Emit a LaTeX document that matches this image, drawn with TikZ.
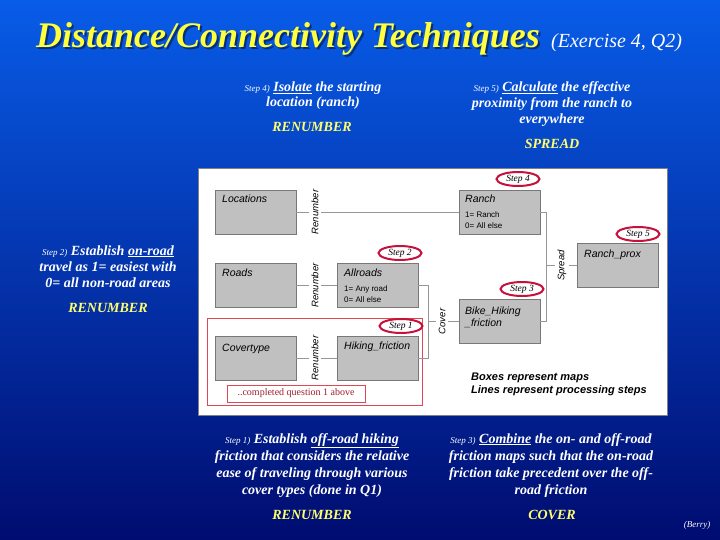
\documentclass[tikz,border=0pt]{standalone}
\usepackage{fontspec}
\setmainfont{Liberation Serif}
\setsansfont{Liberation Sans}
\usetikzlibrary{shapes.geometric}
\definecolor{bgtop}{RGB}{8,92,232}
\definecolor{bgmid}{RGB}{4,58,192}
\definecolor{bgbot}{RGB}{0,12,112}
\definecolor{titleyellow}{RGB}{255,255,60}
\definecolor{cmdyellow}{RGB}{255,255,110}
\definecolor{boxgray}{RGB}{192,192,192}
\definecolor{boxedge}{RGB}{120,120,120}
\definecolor{linkgray}{RGB}{150,150,150}
\definecolor{stepred}{RGB}{200,16,60}
\definecolor{noteRed}{RGB}{225,70,85}
\definecolor{noteText}{RGB}{160,30,45}
\tikzset{
  mapbox/.style={draw=boxedge, fill=boxgray, line width=0.7pt, minimum width=81pt, minimum height=44pt, inner sep=0pt},
  boxtitle/.style={font=\sffamily\itshape\fontsize{10.5}{12}\selectfont, anchor=base west, inner sep=0pt},
  boxnote/.style={font=\sffamily\fontsize{8}{9}\selectfont, anchor=base west, inner sep=0pt},
  oplabel/.style={font=\sffamily\itshape\fontsize{9.5}{10}\selectfont, rotate=90, inner sep=2.5pt},
  link/.style={draw=linkgray, line width=0.7pt},
  stepmark/.style={ellipse, draw=stepred, line width=2pt, fill=white, minimum width=43pt, minimum height=14pt, inner sep=0pt, font=\itshape\fontsize{9.5}{9.5}\selectfont},
  slidetext/.style={font=\bfseries\itshape\fontsize{14}{16}\selectfont, text=white, align=center, inner sep=0pt, anchor=base},
  cmdtext/.style={font=\bfseries\itshape\fontsize{14}{16}\selectfont, text=cmdyellow, inner sep=0pt, anchor=base},
}
\newcommand{\stepno}[1]{{\mdseries\fontsize{9}{9}\selectfont #1}}
\begin{document}
\begin{tikzpicture}[x=1pt,y=-1pt]
\useasboundingbox (0,0) rectangle (720,540);
\shade[top color=bgtop, middle color=bgmid, bottom color=bgbot] (0,0) rectangle (720,540);

% title with its drop shadow
\node[anchor=base west, inner sep=0pt, font=\bfseries\itshape\fontsize{36}{40}\selectfont, text=black, opacity=0.45] (titleshadow) at (38,50) {Distance/Connectivity Techniques};
\node[anchor=base west, inner sep=0pt, font=\bfseries\itshape\fontsize{36}{40}\selectfont, text=titleyellow] (title) at (36,48) {Distance/Connectivity Techniques};
\node[anchor=base west, inner sep=0pt, font=\itshape\fontsize{20}{22}\selectfont, text=white] (exercise) at (551,48) {(Exercise 4, Q2)};

% step descriptions (anchor base = baseline of the last line)
\node[slidetext, font=\bfseries\itshape\fontsize{14}{15.5}\selectfont] (s4text) at (313,107) {\stepno{Step 4)} \underline{Isolate} the starting\\location (ranch)};
\node[cmdtext] (s4cmd) at (312,132) {RENUMBER};
\node[slidetext] (s5text) at (552,124) {\stepno{Step 5)} \underline{Calculate} the effective\\proximity from the ranch to\\everywhere};
\node[cmdtext] (s5cmd) at (552,149) {SPREAD};
\node[slidetext] (s2text) at (108,287) {\stepno{Step 2)} Establish \underline{on-road}\\travel as 1= easiest with\\0= all non-road areas};
\node[cmdtext] (s2cmd) at (108,312) {RENUMBER};
\node[slidetext, font=\bfseries\itshape\fontsize{14}{17}\selectfont] (s1text) at (312,494) {\stepno{Step 1)} Establish \underline{off-road hiking}\\friction that considers the relative\\ease of traveling through various\\cover types (done in Q1)};
\node[cmdtext] (s1cmd) at (312,519) {RENUMBER};
\node[slidetext, font=\bfseries\itshape\fontsize{14}{17}\selectfont] (s3text) at (551,494) {\stepno{Step 3)} \underline{Combine} the on- and off-road\\friction maps such that the on-road\\friction take precedent over the off-\\road friction};
\node[cmdtext] (s3cmd) at (552,519) {COVER};
\node[anchor=base, inner sep=0pt, font=\itshape\fontsize{9}{10}\selectfont, text=white] (berry) at (697,527) {(Berry)};

% panel
\draw[fill=white, draw=gray] (198,168) rectangle (667,415);
\draw[draw=noteRed, line width=0.7pt] (207,318) rectangle (422,405);
\node[draw=noteRed, line width=0.7pt, minimum width=138pt, minimum height=17pt, inner sep=0pt, font=\fontsize{10}{11}\selectfont, text=noteText] (note) at (296,393.5) {..completed question 1 above};

% map boxes
\node[mapbox] (loc) at (255.5,212) {};
\node[mapbox] (ranch) at (499.5,212) {};
\node[mapbox] (roads) at (255.5,285.5) {};
\node[mapbox] (allroads) at (377.5,285.5) {};
\node[mapbox] (cover) at (255.5,358) {};
\node[mapbox] (hiking) at (377.5,358) {};
\node[mapbox] (bike) at (499.5,321.5) {};
\node[mapbox] (ranchprox) at (617.5,265.5) {};

\node[boxtitle] (loct) at (222,203) {Locations};
\node[boxtitle] (rancht) at (465,203) {Ranch};
\node[boxnote] (ranchn1) at (465,218) {1= Ranch};
\node[boxnote] (ranchn2) at (465,228.5) {0= All else};
\node[boxtitle] (roadst) at (222,276) {Roads};
\node[boxtitle] (allroadst) at (344,276) {Allroads};
\node[boxnote] (allroadsn1) at (344,291.5) {1= Any road};
\node[boxnote] (allroadsn2) at (344,302) {0= All else};
\node[boxtitle] (covert) at (222,351) {Covertype};
\node[boxtitle] (hikingt) at (344,349) {Hiking\_friction};
\node[boxtitle] (biket) at (465,314) {Bike\_Hiking};
\node[boxtitle] (biket2) at (465,326) {\_friction};
\node[boxtitle] (ranchproxt) at (584,257) {Ranch\_prox};

% operation labels
\node[oplabel] (renA) at (315,212) {Renumber};
\node[oplabel] (renB) at (315,285.5) {Renumber};
\node[oplabel] (renC) at (315,358) {Renumber};
\coordinate (j1) at (428,321.5);
\node[oplabel] (coverop) at (442,321.5) {Cover};
\coordinate (j2) at (546,265.5);
\node[oplabel] (spreadop) at (562,265.5) {Spread};

% connectors
\draw[link] (loc) -- (renA) -- (ranch);
\draw[link] (roads) -- (renB) -- (allroads);
\draw[link] (cover) -- (renC) -- (hiking);
\draw[link] (allroads.east) -| (j1);
\draw[link] (hiking.east) -| (j1);
\draw[link] (j1) -- (coverop) -- (bike);
\draw[link] (ranch.east) -| (j2);
\draw[link] (bike.east) -| (j2);
\draw[link] (j2) -- (spreadop) -- (ranchprox);

% step marks
\node[stepmark] (step4) at (518,179) {Step 4};
\node[stepmark] (step5) at (638,234) {Step 5};
\node[stepmark] (step2) at (400,253) {Step 2};
\node[stepmark] (step3) at (522,289) {Step 3};
\node[stepmark] (step1) at (401,326) {Step 1};

% legend (anchor base = baseline of the last line)
\node[anchor=base west, inner sep=0pt, align=left, font=\sffamily\bfseries\itshape\fontsize{11}{13}\selectfont] (legend) at (471,393) {Boxes represent maps\\Lines represent processing steps};
\end{tikzpicture}
\end{document}
